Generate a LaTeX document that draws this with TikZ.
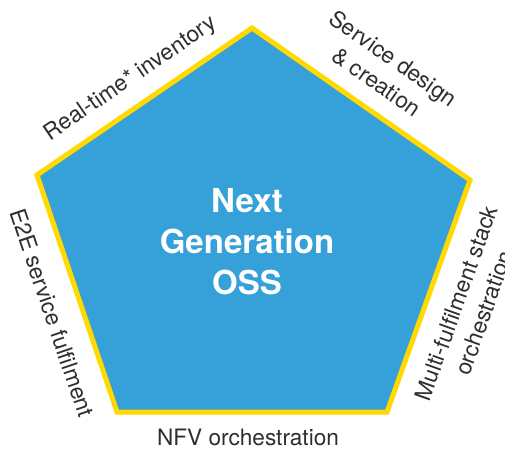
\documentclass[tikz,border=0pt]{standalone}
\usepackage{fontspec}
\setmainfont{TeX Gyre Heros}
\definecolor{ossblue}{HTML}{36A0D9}
\definecolor{ossyellow}{HTML}{FFD900}
\definecolor{labelgray}{HTML}{2E2E2E}
\begin{document}
\begin{tikzpicture}[x=1pt, y=1pt,
      side/.style ={inner sep=0pt, text=labelgray, align=center,
        font=\fontsize{22.6}{29}\selectfont},
      title/.style ={inner sep=0pt, text=white, align=center,
        font=\fontsize{33}{41}\selectfont\bfseries}]

   \useasboundingbox (0,0) rectangle (505,452);

   \coordinate (T)  at (252,424);
   \coordinate (R)  at (470,272);
   \coordinate (BR) at (387,40);
   \coordinate (BL) at (117,40);
   \coordinate (L)  at (37,277);

   \draw[ossyellow, fill=ossblue, line width=5pt, line join=miter]
     (T) -- (R) -- (BR) -- (BL) -- (L) -- cycle;

   \node[title] (oss) at (247,210) {Next\\Generation\\OSS};

   \node[side, rotate=34.4]  (inventory) at (131,373) {Real-time* inventory};
   \node[side, rotate=-34.9] (design)    at (385,382) {Service design\\\& creation};
   \node[side, rotate=70.3]  (stack)     at (470,144) {Multi-fulfilment stack\\orchestration};
   \node[side]               (nfv)       at (248,15)  {NFV orchestration};
   \node[side, rotate=-71.3] (fulfil)    at (52,139)  {E2E service fulfilment};

 \end{tikzpicture}
\end{document}
